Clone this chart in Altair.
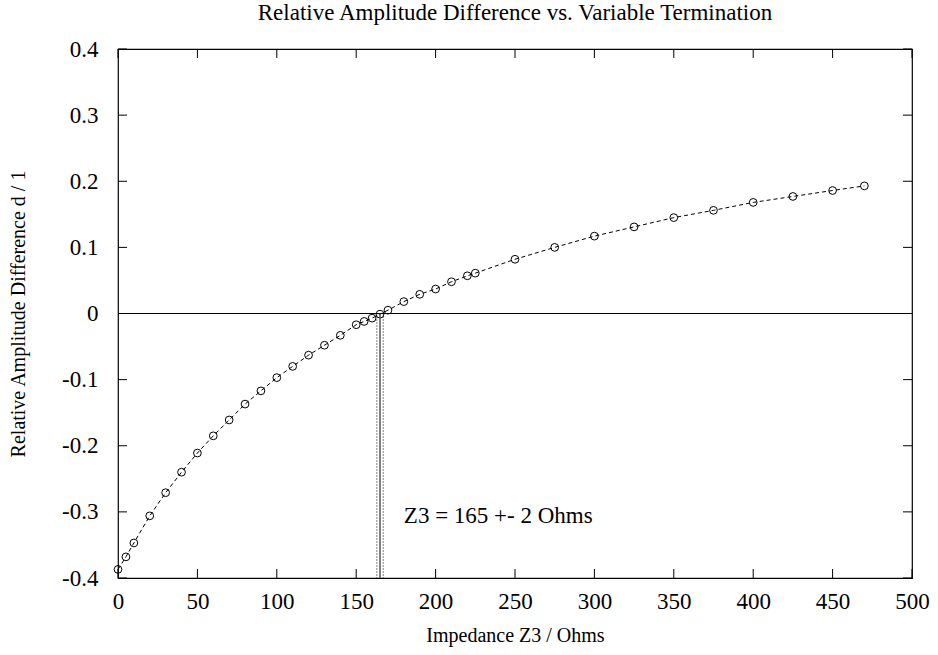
import altair as alt
import pandas as pd

# ---- data ----
z = [0, 5, 10, 20, 30, 40, 50, 60, 70, 80, 90, 100, 110, 120, 130, 140, 150, 155,
     160, 165, 170, 180, 190, 200, 210, 220, 225, 250, 275, 300, 325, 350, 375,
     400, 425, 450, 470]
d = [-0.387, -0.368, -0.347, -0.306, -0.271, -0.240, -0.211, -0.185, -0.161,
     -0.137, -0.117, -0.097, -0.080, -0.063, -0.048, -0.033, -0.017, -0.012,
     -0.007, -0.001, 0.005, 0.018, 0.029, 0.037, 0.048, 0.057, 0.061, 0.082,
     0.100, 0.117, 0.131, 0.145, 0.156, 0.168, 0.177, 0.186, 0.193]
x_ticks = [0, 50, 100, 150, 200, 250, 300, 350, 400, 450, 500]
y_ticks = [-0.4, -0.3, -0.2, -0.1, 0.0, 0.1, 0.2, 0.3, 0.4]
z3_center = [165]
z3_bounds = [163, 167]
note_x = [180]
note_y = [-0.306]
note_text = ["Z3 = 165 +- 2 Ohms"]
title_text = "Relative Amplitude Difference vs. Variable Termination"
x_title = "Impedance Z3 / Ohms"
y_title = "Relative Amplitude Difference d / 1"

FONT = "Liberation Serif"
W, H = 794, 529

df = pd.DataFrame({"z": z, "d": d})
xs = alt.Scale(domain=[0, 500], nice=False, zero=False)
ys = alt.Scale(domain=[-0.4, 0.4], nice=False, zero=False)

xaxis = alt.Axis(values=x_ticks, ticks=False, domain=False, grid=False,
                 labelFont=FONT, labelFontSize=23, labelColor="black",
                 labelPadding=12, labelFlush=False,
                 title=x_title, titleFont=FONT, titleFontSize=20,
                 titleFontWeight="normal", titleColor="black",
                 titleY=47, titleBaseline="top")
yaxis = alt.Axis(values=y_ticks, ticks=False, domain=False, grid=False,
                 labelFont=FONT, labelFontSize=23, labelColor="black",
                 labelPadding=20, labelFlush=False,
                 labelExpr="datum.value == 0 ? '0' : (datum.value < 0 ? '-' : '') + format(abs(datum.value), '.1f')",
                 title=y_title, titleFont=FONT, titleFontSize=20,
                 titleFontWeight="normal", titleColor="black",
                 titleX=-100, titleY=H / 2, titleAngle=-90,
                 titleAlign="center", titleBaseline="middle")


def X(field):
    return alt.X(field, scale=xs, axis=xaxis)


def Y(field):
    return alt.Y(field, scale=ys, axis=yaxis)


line = alt.Chart(df).mark_line(color="black", strokeDash=[4, 3], strokeWidth=1).encode(
    x=X("z:Q"), y=Y("d:Q"))
points = alt.Chart(df).mark_point(shape="circle", filled=False, color="black",
                                  size=60, strokeWidth=1, opacity=1).encode(
    x=X("z:Q"), y=Y("d:Q"))

zero = alt.Chart(pd.DataFrame({"y": [0.0]})).mark_rule(color="black", strokeWidth=1).encode(
    y=Y("y:Q"))

vdf_c = pd.DataFrame({"x": z3_center, "y": [0.0], "y2": [-0.4]})
vdf_b = pd.DataFrame({"x": z3_bounds, "y": [0.0, 0.0], "y2": [-0.4, -0.4]})
vcenter = alt.Chart(vdf_c).mark_rule(color="#555555", strokeWidth=1.5).encode(
    x=X("x:Q"), y=Y("y:Q"), y2="y2:Q")
vbounds = alt.Chart(vdf_b).mark_rule(color="black", strokeWidth=1, strokeDash=[1, 2]).encode(
    x=X("x:Q"), y=Y("y:Q"), y2="y2:Q")

note = alt.Chart(pd.DataFrame({"x": note_x, "y": note_y, "t": note_text})).mark_text(
    align="left", baseline="middle", font=FONT, fontSize=23, color="black").encode(
    x=X("x:Q"), y=Y("y:Q"), text="t:N")

ytdf = pd.DataFrame({"v": y_ticks})
xtdf = pd.DataFrame({"v": x_ticks})
tick_left = alt.Chart(ytdf).mark_rule(color="black").encode(
    y=Y("v:Q"), x=alt.value(0), x2=alt.value(9))
tick_right = alt.Chart(ytdf).mark_rule(color="black").encode(
    y=Y("v:Q"), x=alt.value(W - 9), x2=alt.value(W))
tick_bottom = alt.Chart(xtdf).mark_rule(color="black").encode(
    x=X("v:Q"), y=alt.value(H - 9), y2=alt.value(H))
tick_top = alt.Chart(xtdf).mark_rule(color="black").encode(
    x=X("v:Q"), y=alt.value(0), y2=alt.value(9))

chart = alt.layer(
    line, points, zero, vbounds, vcenter, note,
    tick_left, tick_right, tick_bottom, tick_top,
).properties(
    width=W, height=H,
    title=alt.TitleParams(title_text, font=FONT, fontSize=23, fontWeight="normal",
                          color="black", anchor="middle", frame="group",
                          baseline="bottom", offset=-10),
    autosize=alt.AutoSizeParams(type="none"),
    padding={"left": 118, "top": 49, "right": 26, "bottom": 77},
).configure_view(stroke="black", strokeWidth=1.2)

chart.save("out.html", embed_options={"renderer": "svg", "actions": False})
